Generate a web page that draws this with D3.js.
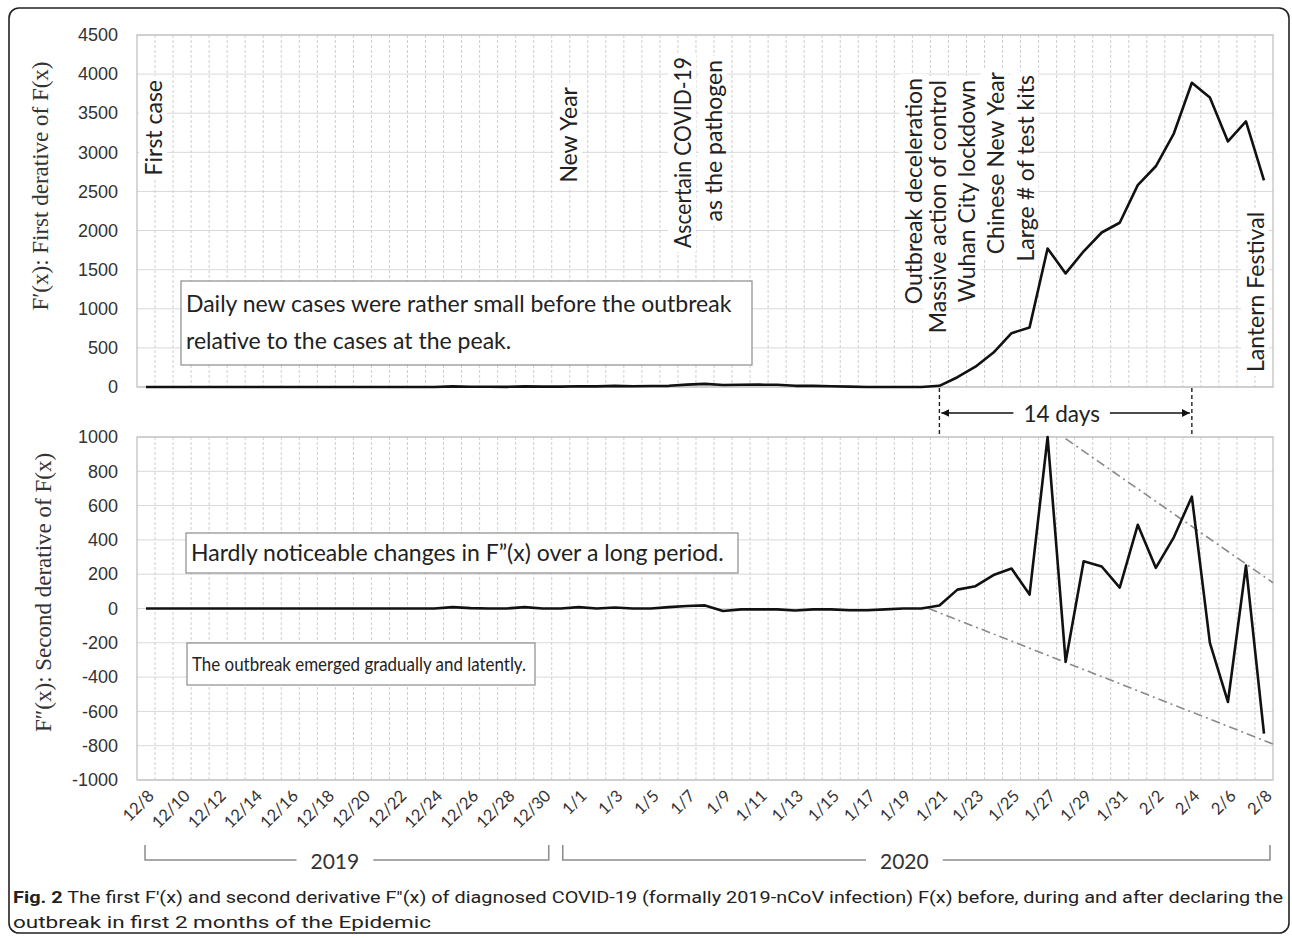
<!DOCTYPE html>
<html><head><meta charset="utf-8">
<script src="https://cdn.jsdelivr.net/npm/d3@7"></script>
<style>body{margin:0;background:#fff}svg{display:block}</style>
</head><body>
<svg id="c" width="1292" height="938"></svg>
<script>
// ---------- DATA ----------
const dates = ["12/8","12/9","12/10","12/11","12/12","12/13","12/14","12/15","12/16","12/17","12/18","12/19","12/20","12/21","12/22","12/23","12/24","12/25","12/26","12/27","12/28","12/29","12/30","12/31",
"1/1","1/2","1/3","1/4","1/5","1/6","1/7","1/8","1/9","1/10","1/11","1/12","1/13","1/14","1/15","1/16","1/17","1/18","1/19","1/20","1/21","1/22","1/23","1/24","1/25","1/26","1/27","1/28","1/29","1/30","1/31",
"2/1","2/2","2/3","2/4","2/5","2/6","2/7","2/8"];
const firstDerivative = [0,0,0,0,0,0,0,0,0,0,0,0,0,0,0,0,0,8,4,3,2,8,5,5,
10,8,14,10,12,15,30,40,25,28,30,28,15,15,10,5,0,0,0,0,15,125,260,440,688,762,1771,1452,1735,1975,2100,
2580,2822,3240,3889,3700,3140,3396,2640];
const secondDerivative = [0,0,0,0,0,0,0,0,0,0,0,0,0,0,0,0,0,8,2,0,0,8,0,0,
8,0,6,0,0,8,15,18,-15,-5,-5,-5,-12,-5,-5,-10,-10,-5,0,0,17,110,130,195,233,81,1000,-310,275,245,122,
488,237,415,652,-200,-545,250,-730];
const topTicks = [0,500,1000,1500,2000,2500,3000,3500,4000,4500];
const bottomTicks = [-1000,-800,-600,-400,-200,0,200,400,600,800,1000];
const xTickLabels = dates.filter((d,i)=>i%2===0);
// trend envelopes (date index, value)
const upperTrend = [[51,990],[62.5,150]];
const lowerTrend = [[43.4,0],[62.5,-790]];
const topEvents = [
  {date:"12/8", dx:7, lines:["First case"], top:80},
  {date:"1/1", dx:-11, lines:["New Year"], top:87},
  {date:"1/7", dx:-5, lines:["Ascertain COVID-19","as the pathogen"], top:57, len:[191,null]},
  {date:"1/20", dx:-8, lines:["Outbreak deceleration"], top:78},
  {date:"1/21", dx:-2, lines:["Massive action of control"], top:80},
  {date:"1/22", dx:9, lines:["Wuhan City lockdown"], top:80},
  {date:"1/24", dx:1, lines:["Chinese  New Year"], top:72},
  {date:"1/26", dx:-5, lines:["Large # of test kits"], top:75}
];
const lanternEvent = {date:"2/8", dx:-9, text:"Lantern Festival", bottom:372};
const peakSpan = ["1/21","2/4"];
const spanLabel = "14 days";
const years = [{label:"2019", from:"12/8", to:"12/31"},{label:"2020", from:"1/1", to:"2/8"}];
const topNote = ["Daily new cases were rather small before the outbreak","relative to the cases at the peak."];
const midNote = "Hardly noticeable changes in F\u201D(x) over a long period.";
const lowNote = "The outbreak emerged gradually and latently.";
const topYTitle = "F\u2032(x): First derative of F(x)";
const botYTitle = "F\u2033(x): Second derative of F(x)";

// ---------- LAYOUT ----------
const svg = d3.select("#c");
const L = 137, R = 1273;
const TT = 35, TB = 387, BT = 437, BB = 780;
const annoFont = "Lato, 'Open Sans', sans-serif";
const x = d3.scalePoint().domain(dates).range([L, R]).padding(0.5);
const step = x.step();
const xi = d3.scaleLinear().domain([0, dates.length-1]).range([x(dates[0]), x(dates[dates.length-1])]);
const yT = d3.scaleLinear().domain([0,4500]).range([TB, TT]);
const yB = d3.scaleLinear().domain([-1000,1000]).range([BB, BT]);

// frame
svg.append("rect").attr("x",9).attr("y",8).attr("width",1280).attr("height",925)
  .attr("rx",10).attr("fill","none").attr("stroke","#222").attr("stroke-width",1.6);

function panel(y, ticks, y0, y1) {
  const g = svg.append("g");
  g.selectAll("line.h").data(ticks).join("line")
    .attr("x1",L).attr("x2",R).attr("y1",d=>y(d)).attr("y2",d=>y(d))
    .attr("stroke","#d9d9d9").attr("stroke-width",1);
  g.selectAll("line.v").data(d3.range(1, dates.length)).join("line")
    .attr("x1",k=>L+k*step).attr("x2",k=>L+k*step).attr("y1",y1).attr("y2",y0)
    .attr("stroke","#cfcfcf").attr("stroke-width",1).attr("stroke-dasharray","3,2");
  g.append("rect").attr("x",L).attr("y",y1).attr("width",R-L).attr("height",y0-y1)
    .attr("fill","none").attr("stroke","#bdbdbd").attr("stroke-width",1.2);
  const ax = g.append("g").attr("transform",`translate(${L},0)`)
    .call(d3.axisLeft(y).tickValues(ticks).tickSize(0).tickPadding(19).tickFormat(d=>String(d)));
  ax.select(".domain").remove();
  ax.selectAll("text").attr("font-family","'Liberation Sans', Arial, sans-serif").attr("font-size",18).attr("fill","#333");
  return g;
}
panel(yT, topTicks, TB, TT);
panel(yB, bottomTicks, BB, BT);

// y titles
svg.append("text").attr("transform",`translate(40,${(60+312)/2}) rotate(-90)`)
  .attr("text-anchor","middle").attr("dominant-baseline","central")
  .attr("font-family","'Liberation Serif', 'Times New Roman', serif").attr("font-size",23).attr("fill","#333")
  .text(topYTitle);
svg.append("text").attr("transform",`translate(43,${(455+730)/2}) rotate(-90)`)
  .attr("text-anchor","middle").attr("dominant-baseline","central")
  .attr("font-family","'Liberation Serif', 'Times New Roman', serif").attr("font-size",23).attr("fill","#333")
  .text(botYTitle);

// rotated event annotations with white background
const annoG = svg.append("g");
function rotText(cx, y, anchor, txt, tlen) {
  const t = annoG.append("text").attr("transform",`translate(${cx},${y}) rotate(-90)`)
    .attr("text-anchor",anchor).attr("dominant-baseline","central")
    .attr("font-family",annoFont).attr("font-size",23).attr("fill","#222").text(txt);
  if (tlen) t.attr("textLength",tlen).attr("lengthAdjust","spacingAndGlyphs");
  const len = tlen || t.node().getBBox().width;
  const y0 = anchor === "end" ? y - 4 : y - len - 4;
  annoG.insert("rect","text").attr("x",cx-14).attr("y",y0).attr("width",28).attr("height",len+8).attr("fill","#fff");
  return t;
}
topEvents.forEach(ev => {
  ev.lines.forEach((ln,j) => rotText(x(ev.date)+ev.dx + j*31, ev.top + j*3, "end", ln, ev.len ? ev.len[j] : null));
});
rotText(x(lanternEvent.date)+lanternEvent.dx, lanternEvent.bottom, "start", lanternEvent.text);

// note boxes
function noteBox(bx, by, bw, bh, lines, baselines, fs, tlen) {
  svg.append("rect").attr("x",bx).attr("y",by).attr("width",bw).attr("height",bh)
    .attr("fill","#fff").attr("stroke","#8c8c8c").attr("stroke-width",1.2);
  lines.forEach((ln,i) => {
    const t = svg.append("text").attr("x",bx+5).attr("y",baselines[i])
      .attr("font-family",annoFont).attr("font-size",fs).attr("fill","#222").text(ln);
    if (tlen) t.attr("textLength",tlen).attr("lengthAdjust","spacingAndGlyphs");
  });
}
noteBox(181, 281, 571, 84, topNote, [312, 349], 23);
noteBox(186, 533, 552, 40, [midNote], [561], 23);
noteBox(187, 643, 348, 42, [lowNote], [671], 20, 334);

// trend envelopes
const tl = d3.line().x(d=>xi(d[0])).y(d=>yB(d[1]));
[upperTrend, lowerTrend].forEach(tr => svg.append("path").attr("d",tl(tr))
  .attr("fill","none").attr("stroke","#8a8a8a").attr("stroke-width",1.6).attr("stroke-dasharray","9,4,2,4"));

// data lines
const lineT = d3.line().x((d,i)=>x(dates[i])).y(d=>yT(d));
const lineB = d3.line().x((d,i)=>x(dates[i])).y(d=>yB(d));
svg.append("path").attr("d",lineT(firstDerivative)).attr("fill","none").attr("stroke","#111").attr("stroke-width",2.6).attr("stroke-linejoin","round");
svg.append("path").attr("d",lineB(secondDerivative)).attr("fill","none").attr("stroke","#111").attr("stroke-width",2.6).attr("stroke-linejoin","round");

// 14-day span
const sx0 = x(peakSpan[0]), sx1 = x(peakSpan[1]);
[sx0, sx1].forEach(sx => svg.append("line").attr("x1",sx).attr("x2",sx).attr("y1",TB+1).attr("y2",BT)
  .attr("stroke","#222").attr("stroke-width",1.4).attr("stroke-dasharray","4,3"));
const ay = 413;
const defs = svg.append("defs");
defs.append("marker").attr("id","ah").attr("viewBox","0 0 10 10").attr("refX",10).attr("refY",5)
  .attr("markerWidth",5).attr("markerHeight",5).attr("orient","auto-start-reverse")
  .append("path").attr("d","M0,0L10,5L0,10z").attr("fill","#111");
const spanText = svg.append("text").attr("x",(sx0+sx1)/2-4).attr("y",ay).attr("text-anchor","middle")
  .attr("dominant-baseline","central").attr("font-family",annoFont).attr("font-size",22.5).attr("fill","#222").text(spanLabel);
const stw = spanText.node().getBBox().width;
svg.append("line").attr("x1",(sx0+sx1)/2 - 4 - stw/2 - 10).attr("x2",sx0+2).attr("y1",ay).attr("y2",ay)
  .attr("stroke","#111").attr("stroke-width",1.6).attr("marker-end","url(#ah)");
svg.append("line").attr("x1",(sx0+sx1)/2 - 4 + stw/2 + 10).attr("x2",sx1-2).attr("y1",ay).attr("y2",ay)
  .attr("stroke","#111").attr("stroke-width",1.6).attr("marker-end","url(#ah)");

// x tick labels
svg.append("g").selectAll("text").data(xTickLabels).join("text")
  .attr("transform",d=>`translate(${x(d)+9},${797}) rotate(-45)`)
  .attr("text-anchor","end").attr("font-family",annoFont).attr("font-size",16.5).attr("fill","#333").text(d=>d);

// year brackets
const bracketPad = {"2019":[-1,-12], "2020":[-16,6]};
years.forEach(yr => {
  const a = x(yr.from) + bracketPad[yr.label][0], b = x(yr.to) + bracketPad[yr.label][1];
  const ya = 845, yb = 860, mid = (a+b)/2 - 12;
  const g = svg.append("g");
  const t = g.append("text").attr("x",mid).attr("y",yb).attr("text-anchor","middle").attr("dominant-baseline","central")
    .attr("font-family",annoFont).attr("font-size",21).attr("fill","#333").text(yr.label);
  const w = t.node().getBBox().width;
  g.append("path").attr("d",`M${a},${ya}V${yb}H${mid-w/2-14}M${mid+w/2+14},${yb}H${b}V${ya}`)
    .attr("fill","none").attr("stroke","#8c8c8c").attr("stroke-width",1.5);
});

// caption
const cap = svg.append("g").attr("font-family","'Roboto', sans-serif").attr("font-size",17).attr("fill","#222");
const c1 = cap.append("text").attr("x",13).attr("y",903).attr("textLength",1270).attr("lengthAdjust","spacingAndGlyphs");
c1.append("tspan").attr("font-weight","bold").text("Fig. 2");
c1.append("tspan").text(" The first F\u2032(x) and second derivative F\u2033(x) of diagnosed COVID-19 (formally 2019-nCoV infection) F(x) before, during and after declaring the");
cap.append("text").attr("x",13).attr("y",928).attr("textLength",418).attr("lengthAdjust","spacingAndGlyphs")
  .text("outbreak in first 2 months of the Epidemic");
</script>
</body></html>
